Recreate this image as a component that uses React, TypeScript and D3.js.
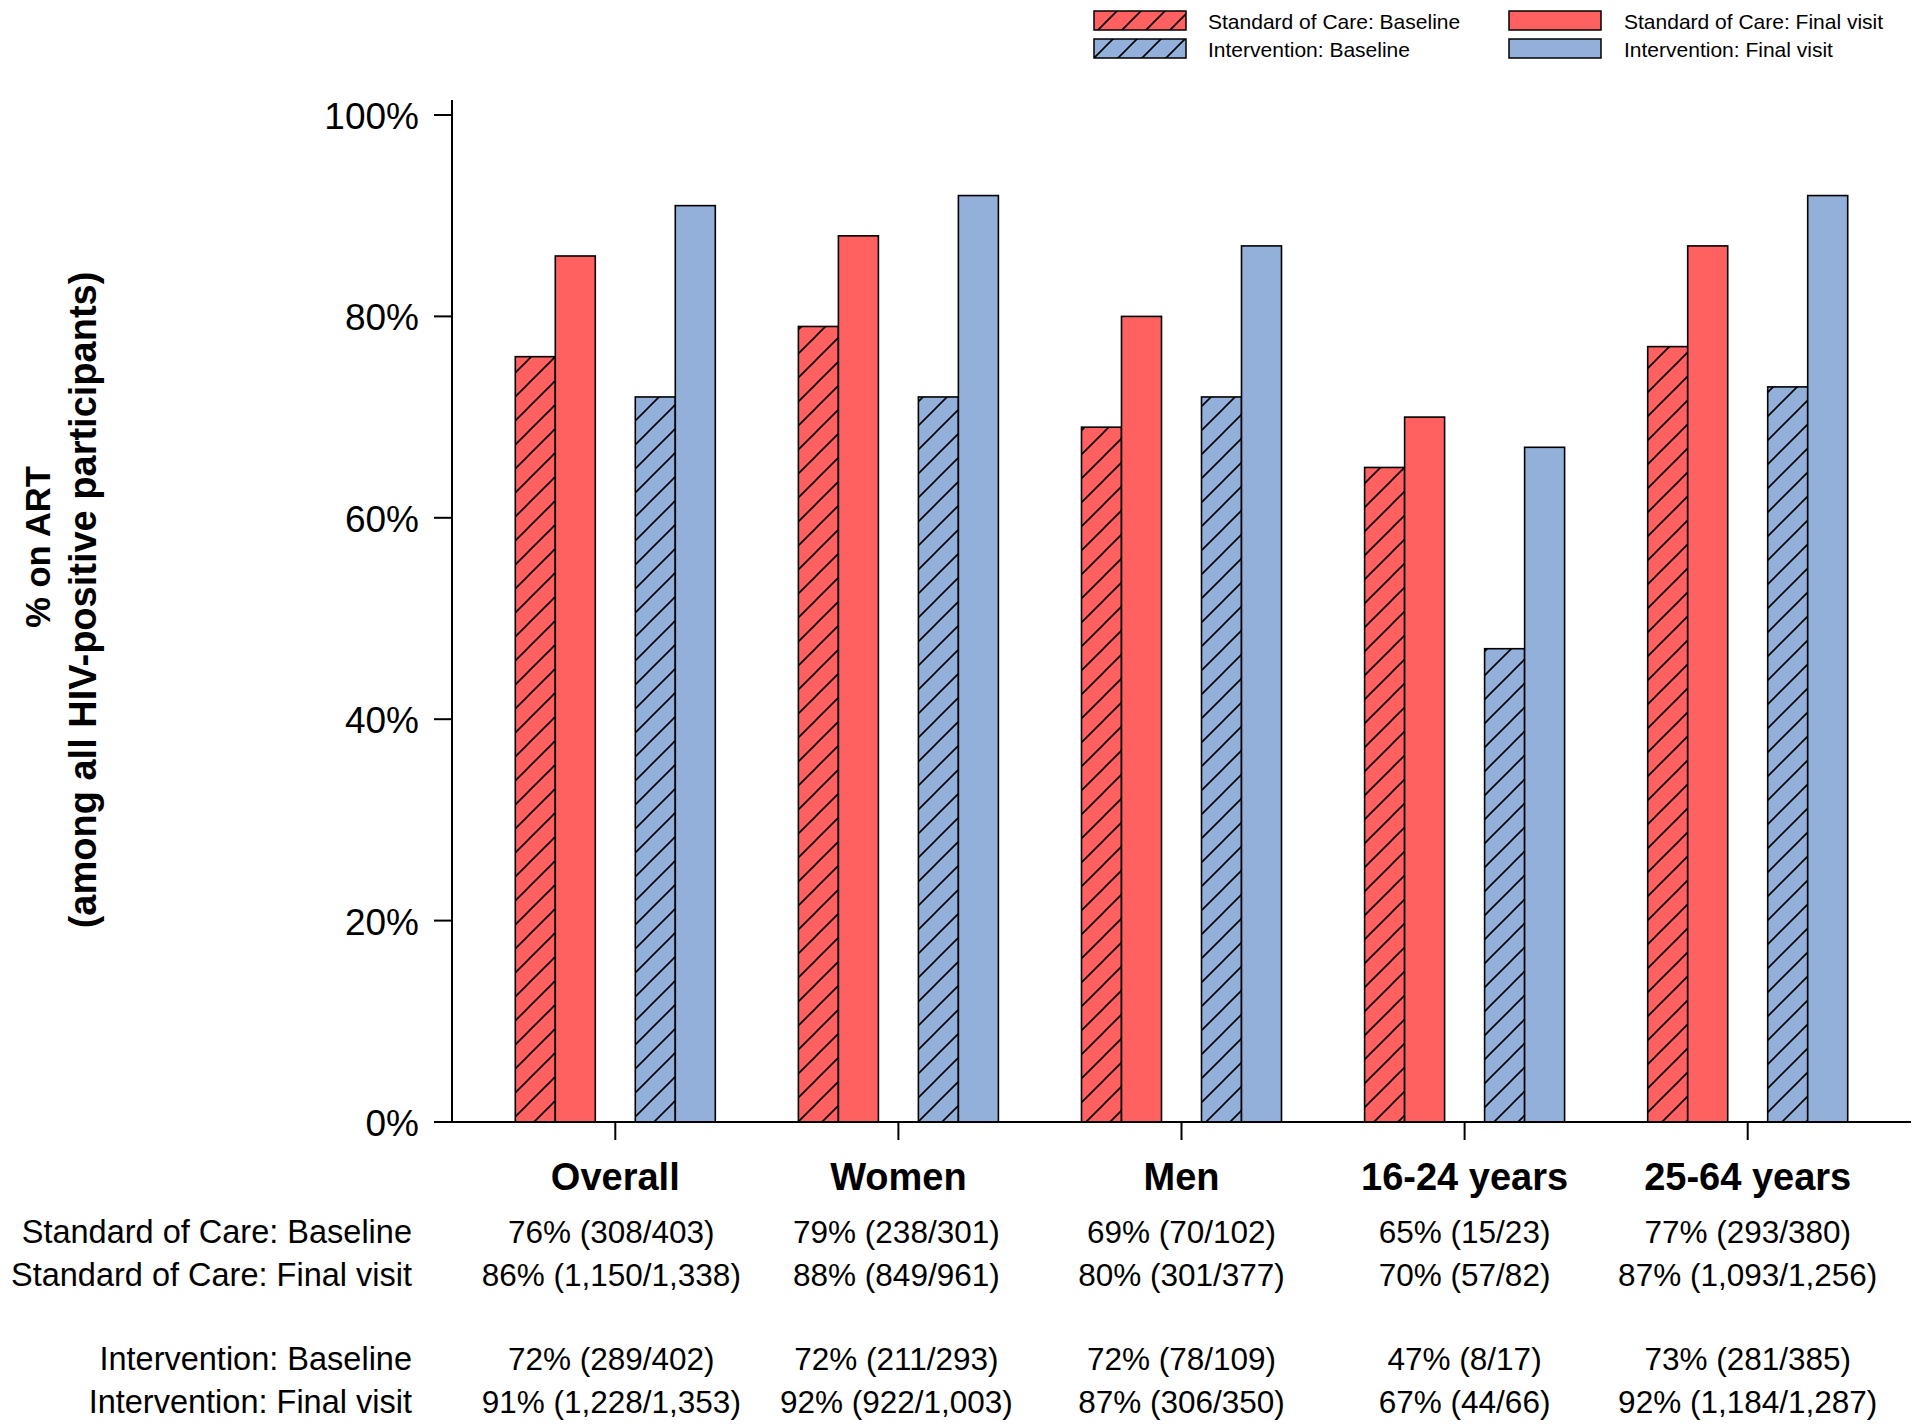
import React from "react";
import * as d3 from "d3";

const categories = ["Overall", "Women", "Men", "16-24 years", "25-64 years"];
const seriesKeys = ["socBaseline", "socFinal", "intBaseline", "intFinal"];
const seriesLabels = [
  "Standard of Care: Baseline",
  "Standard of Care: Final visit",
  "Intervention: Baseline",
  "Intervention: Final visit",
];
const socBaseline = [76, 79, 69, 65, 77];
const socFinal = [86, 88, 80, 70, 87];
const intBaseline = [72, 72, 72, 47, 73];
const intFinal = [91, 92, 87, 67, 92];

const socBaselineN = [308, 238, 70, 15, 293];
const socBaselineD = [403, 301, 102, 23, 380];
const socFinalN = [1150, 849, 301, 57, 1093];
const socFinalD = [1338, 961, 377, 82, 1256];
const intBaselineN = [289, 211, 78, 8, 281];
const intBaselineD = [402, 293, 109, 17, 385];
const intFinalN = [1228, 922, 306, 44, 1184];
const intFinalD = [1353, 1003, 350, 66, 1287];

const yTicks = [0, 20, 40, 60, 80, 100];

const seriesValues = [socBaseline, socFinal, intBaseline, intFinal];
const seriesNum = [socBaselineN, socFinalN, intBaselineN, intFinalN];
const seriesDen = [socBaselineD, socFinalD, intBaselineD, intFinalD];

const RED = "#FF6161";
const BLUE = "#92B0DA";
const seriesFill = ["url(#hatchRed)", RED, "url(#hatchBlue)", BLUE];

const FONT = "'Liberation Sans', Arial, Helvetica, sans-serif";

export default function App() {
  const W = 1920;
  const H = 1426;
  const x = d3
    .scaleBand<string>()
    .domain(categories)
    .range([452, 1911])
    .paddingInner(0)
    .paddingOuter(0.0768);
  const sub = d3
    .scaleBand<string>()
    .domain(["socBaseline", "socFinal", "gap", "intBaseline", "intFinal"])
    .range([-100, 100]);
  const y = d3.scaleLinear().domain([0, 100]).range([1122, 115]);
  const yAxisTop = 101.5;
  const cx = (c: string) => (x(c) as number) + x.bandwidth() / 2;
  const fmt = d3.format(",");

  const rowBaselines = [1243, 1286, 1370, 1413];
  const tableColShift = [-4, -2, 0, 0, 0];

  const hatch = (id: string, color: string) => (
    <pattern id={id} patternUnits="userSpaceOnUse" width={24} height={24}>
      <rect width={24} height={24} fill={color} />
      <path
        d="M0,24 L24,0 M-6,6 L6,-6 M18,30 L30,18"
        stroke="#000"
        strokeWidth={1.6}
      />
    </pattern>
  );

  const legendItems = [
    { col: 0, row: 0, i: 0 },
    { col: 0, row: 1, i: 2 },
    { col: 1, row: 0, i: 1 },
    { col: 1, row: 1, i: 3 },
  ];
  const legBoxX = [1094, 1509];
  const legTextX = [1208, 1624];
  const legRowY = [11, 39];

  return (
    <svg
      width={W}
      height={H}
      style={{ position: "absolute", left: 0, top: 0, background: "#fff" }}
      fontFamily={FONT}
    >
      <defs>
        {hatch("hatchRed", RED)}
        {hatch("hatchBlue", BLUE)}
      </defs>
      <rect width={W} height={H} fill="#fff" />

      {/* Legend */}
      {legendItems.map((d) => (
        <g key={d.i}>
          <rect
            x={legBoxX[d.col]}
            y={legRowY[d.row]}
            width={92}
            height={19}
            fill={seriesFill[d.i]}
            stroke="#000"
            strokeWidth={1.5}
          />
          <text
            x={legTextX[d.col]}
            y={legRowY[d.row] + 18}
            fontSize={21}
            fill="#000"
          >
            {seriesLabels[d.i]}
          </text>
        </g>
      ))}

      {/* Bars */}
      {categories.map((c, ci) => (
        <g key={c}>
          {seriesKeys.map((k, si) => {
            const v = seriesValues[si][ci];
            return (
              <rect
                key={k}
                x={cx(c) + (sub(k) as number)}
                y={y(v)}
                width={sub.bandwidth()}
                height={y(0) - y(v)}
                fill={seriesFill[si]}
                stroke="#000"
                strokeWidth={1.6}
              />
            );
          })}
        </g>
      ))}

      {/* Y axis */}
      <line
        x1={452}
        x2={452}
        y1={y(0)}
        y2={y(yAxisTop)}
        stroke="#000"
        strokeWidth={2}
      />
      {yTicks.map((t) => (
        <g key={t}>
          <line x1={434} x2={452} y1={y(t)} y2={y(t)} stroke="#000" strokeWidth={2} />
          <text
            x={419}
            y={y(t)}
            dy="0.38em"
            textAnchor="end"
            fontSize={37}
            fill="#000"
          >
            {t}%
          </text>
        </g>
      ))}

      {/* X axis */}
      <line x1={434} x2={1911} y1={y(0)} y2={y(0)} stroke="#000" strokeWidth={2} />
      {categories.map((c) => (
        <g key={c}>
          <line
            x1={cx(c)}
            x2={cx(c)}
            y1={y(0)}
            y2={y(0) + 18}
            stroke="#000"
            strokeWidth={2}
          />
          <text
            x={cx(c)}
            y={1190}
            textAnchor="middle"
            fontSize={38}
            fontWeight="bold"
            fill="#000"
          >
            {c}
          </text>
        </g>
      ))}

      {/* Y title */}
      <text
        transform="translate(50,547) rotate(-90)"
        textAnchor="middle"
        fontSize={34.5}
        fontWeight="bold"
        fill="#000"
      >
        % on ART
      </text>
      <text
        transform="translate(96,600) rotate(-90)"
        textAnchor="middle"
        fontSize={38}
        fontWeight="bold"
        fill="#000"
      >
        (among all HIV-positive participants)
      </text>

      {/* Table */}
      {[0, 1, 2, 3].map((si) => (
        <g key={si}>
          <text
            x={412}
            y={rowBaselines[si]}
            textAnchor="end"
            fontSize={32.5}
            fill="#000"
          >
            {seriesLabels[si]}
          </text>
          {categories.map((c, ci) => (
            <text
              key={c}
              x={cx(c) + tableColShift[ci]}
              y={rowBaselines[si]}
              textAnchor="middle"
              fontSize={31.5}
              fill="#000"
            >
              {`${seriesValues[si][ci]}% (${fmt(seriesNum[si][ci])}/${fmt(
                seriesDen[si][ci]
              )})`}
            </text>
          ))}
        </g>
      ))}
    </svg>
  );
}
